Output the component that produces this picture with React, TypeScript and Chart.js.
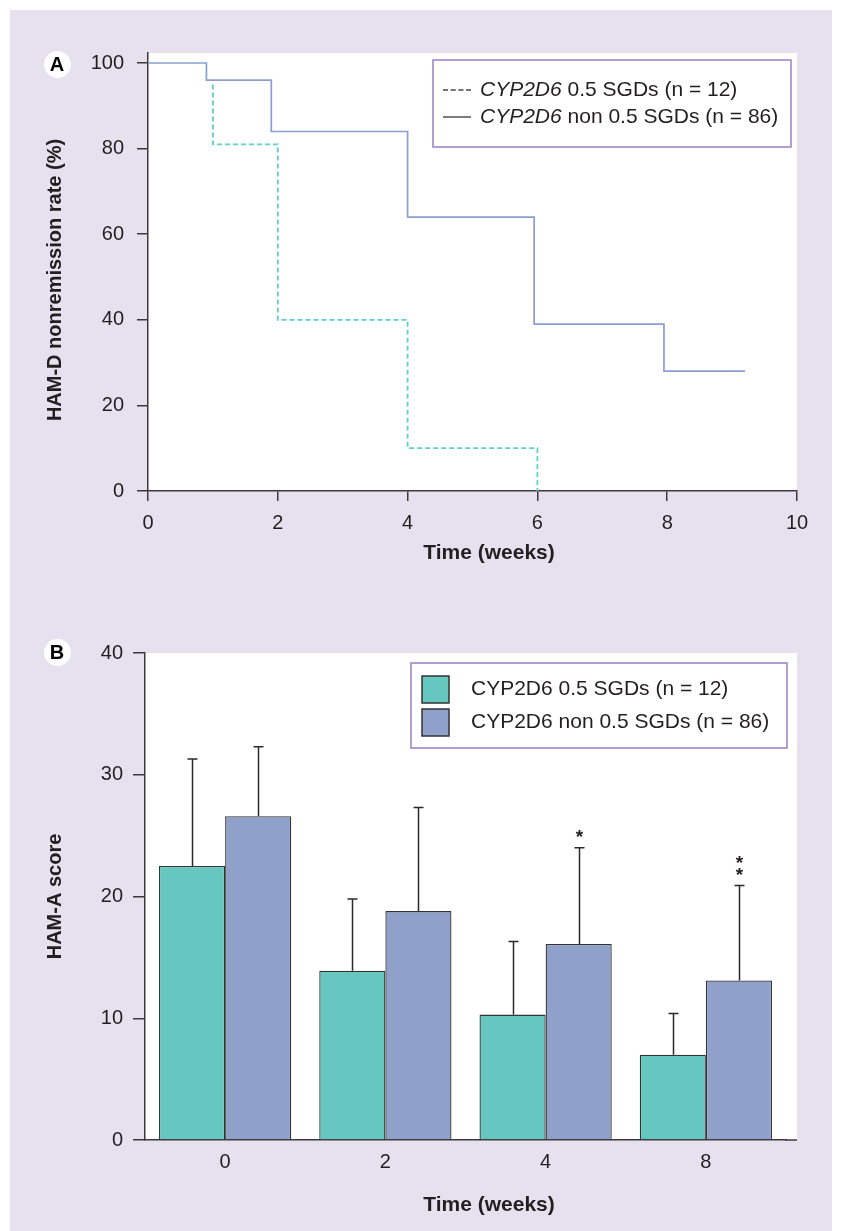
import React, { useEffect, useRef } from "react";
import { Chart, registerables } from "chart.js";

Chart.register(...registerables);

const FONT = "'Liberation Sans', Arial, Helvetica, sans-serif";
const INK = "#231f20";
const AXIS = "#3a3a3a";
const TEAL = "#66c7c1";
const BLUE = "#8fa1cb";
const LINE_TEAL = "#5fcfc9";
const LINE_BLUE = "#8c9ed0";
const FRAME = "#a088c8";

// ---------- Panel A: Kaplan-Meier style nonremission curves ----------
const kmTicksX = [0, 2, 4, 6, 8, 10];
const kmTicksY = [0, 20, 40, 60, 80, 100];
const kmGene = "CYP2D6";
const kmGroups = [" 0.5 SGDs (n = 12)", " non 0.5 SGDs (n = 86)"];
const sgdWeeks = [1, 1, 2, 4, 6];
const sgdRate = [95, 81, 40, 10, 0];
const nonWeeks = [0, 0.9, 1.9, 4, 5.95, 7.95, 9.2];
const nonRate = [100, 96, 84, 64, 39, 28, 28];

// ---------- Panel B: HAM-A scores ----------
const weekLabels = ["0", "2", "4", "8"];
const hamaTicksY = [0, 10, 20, 30, 40];
const barLabels = ["CYP2D6 0.5 SGDs (n = 12)", "CYP2D6 non 0.5 SGDs (n = 86)"];
const sgdMean = [22.5, 13.9, 10.3, 7.0];
const sgdSD = [8.8, 5.9, 6.0, 3.4];
const nonMean = [26.6, 18.8, 16.1, 13.1];
const nonSD = [5.7, 8.5, 7.9, 7.8];
const nonSig = ["", "", "*", "**"];

Chart.defaults.font.family = FONT;

function KMChart() {
  const ref = useRef<HTMLCanvasElement>(null);
  useEffect(() => {
    const decor = {
      id: "decorA",
      beforeDraw(chart: any) {
        const { ctx, chartArea: a } = chart;
        ctx.save();
        ctx.fillStyle = "#ffffff";
        ctx.fillRect(a.left, a.top, a.right - a.left, a.bottom - a.top);
        ctx.restore();
      },
      afterDraw(chart: any) {
        const { ctx, chartArea: a } = chart;
        ctx.save();
        ctx.fillStyle = INK;
        ctx.textAlign = "center";
        ctx.textBaseline = "middle";
        ctx.font = `bold 21px ${FONT}`;
        ctx.fillText("Time (weeks)", (a.left + a.right) / 2 + 16.5, a.bottom + 62);
        ctx.save();
        ctx.translate(55, (a.top + a.bottom) / 2 + 8);
        ctx.rotate(-Math.PI / 2);
        ctx.font = `bold 20px ${FONT}`;
        ctx.fillText("HAM-D nonremission rate (%)", 0, 0);
        ctx.restore();

        // legend
        const bx = a.right - 364, by = a.top + 7, bw = 358, bh = 87;
        ctx.fillStyle = "#ffffff";
        ctx.fillRect(bx, by, bw, bh);
        ctx.strokeStyle = FRAME;
        ctx.lineWidth = 1.6;
        ctx.strokeRect(bx, by, bw, bh);
        const rows = [by + 30, by + 57];
        chart.data.datasets.forEach((ds: any, i: number) => {
          const y = rows[i];
          ctx.strokeStyle = "#444";
          ctx.lineWidth = 1.4;
          ctx.setLineDash(i === 0 ? [5, 2.7] : []);
          ctx.beginPath();
          ctx.moveTo(bx + 10, y);
          ctx.lineTo(bx + 38, y);
          ctx.stroke();
          ctx.setLineDash([]);
          let x = bx + 47;
          ctx.fillStyle = INK;
          ctx.textAlign = "left";
          ctx.textBaseline = "middle";
          ctx.font = `italic 21px ${FONT}`;
          ctx.fillText(kmGene, x, y);
          x += ctx.measureText(kmGene).width;
          ctx.font = `21px ${FONT}`;
          ctx.fillText(kmGroups[i], x, y);
        });
        ctx.restore();
      },
    };

    const chart = new Chart(ref.current!, {
      type: "scatter",
      data: {
        datasets: [
          {
            label: kmGene + kmGroups[0],
            data: sgdWeeks.map((w, i) => ({ x: w, y: sgdRate[i] })),
            showLine: true,
            stepped: true,
            borderColor: LINE_TEAL,
            borderWidth: 1.8,
            borderDash: [5, 3],
            pointRadius: 0,
            fill: false,
          },
          {
            label: kmGene + kmGroups[1],
            data: nonWeeks.map((w, i) => ({ x: w, y: nonRate[i] })),
            showLine: true,
            stepped: true,
            borderColor: LINE_BLUE,
            borderWidth: 1.7,
            pointRadius: 0,
            fill: false,
          },
        ],
      },
      options: {
        animation: false,
        responsive: false,
        maintainAspectRatio: false,
        layout: { padding: { left: 0, top: 53, right: 45, bottom: 0 } },
        plugins: { legend: { display: false }, tooltip: { enabled: false } },
        scales: {
          x: {
            type: "linear",
            min: 0,
            max: 10,
            afterBuildTicks: (s: any) => {
              s.ticks = kmTicksX.map((v) => ({ value: v }));
            },
            afterFit: (s: any) => {
              s.height = 109;
            },
            grid: { drawOnChartArea: false, drawTicks: true, tickLength: 10, color: AXIS, lineWidth: 1.5 },
            border: { display: true, color: AXIS, width: 1.5 },
            ticks: { color: INK, font: { size: 20 }, padding: 10 },
          },
          y: {
            type: "linear",
            min: 0,
            max: 102.34,
            afterBuildTicks: (s: any) => {
              s.ticks = kmTicksY.map((v) => ({ value: v }));
            },
            afterFit: (s: any) => {
              s.width = 148;
            },
            grid: { drawOnChartArea: false, drawTicks: true, tickLength: 11, color: AXIS, lineWidth: 1.5 },
            border: { display: true, color: AXIS, width: 1.5 },
            ticks: { color: INK, font: { size: 20 }, padding: 13 },
          },
        },
      },
      plugins: [decor],
    } as any);
    return () => chart.destroy();
  }, []);
  return (
    <canvas
      ref={ref}
      width={842}
      height={600}
      style={{ position: "absolute", left: 0, top: 0, width: 842, height: 600 }}
    />
  );
}

function HamaChart() {
  const ref = useRef<HTMLCanvasElement>(null);
  useEffect(() => {
    const means = [sgdMean, nonMean];
    const sds = [sgdSD, nonSD];
    const whiteRight = 797;
    const decor = {
      id: "decorB",
      beforeDraw(chart: any) {
        const { ctx, chartArea: a } = chart;
        ctx.save();
        ctx.fillStyle = "#ffffff";
        ctx.fillRect(a.left, a.top, whiteRight - a.left, a.bottom - a.top);
        ctx.restore();
      },
      afterDatasetsDraw(chart: any) {
        const { ctx } = chart;
        const yScale = chart.scales.y;
        ctx.save();
        ctx.strokeStyle = "#2a2a2a";
        ctx.lineWidth = 1.5;
        chart.data.datasets.forEach((ds: any, i: number) => {
          const meta = chart.getDatasetMeta(i);
          meta.data.forEach((bar: any, j: number) => {
            const x = Math.round(bar.x) + 0.5;
            const yTop = yScale.getPixelForValue(means[i][j] + sds[i][j]);
            ctx.beginPath();
            ctx.moveTo(x, bar.y);
            ctx.lineTo(x, yTop);
            ctx.moveTo(x - 5, yTop);
            ctx.lineTo(x + 5, yTop);
            ctx.stroke();
            if (i === 1 && nonSig[j]) {
              ctx.fillStyle = INK;
              ctx.font = `bold 19px ${FONT}`;
              ctx.textAlign = "center";
              ctx.textBaseline = "alphabetic";
              for (let k = 0; k < nonSig[j].length; k++) {
                const cy = yTop - 16 - 12 * k;
                ctx.fillText(nonSig[j][k], x, cy + 11);
              }
            }
          });
        });
        ctx.restore();
      },
      afterDraw(chart: any) {
        const { ctx, chartArea: a } = chart;
        ctx.save();
        // extend base line to edge of white panel
        ctx.strokeStyle = AXIS;
        ctx.lineWidth = 1.5;
        ctx.beginPath();
        ctx.moveTo(a.right - 1, a.bottom);
        ctx.lineTo(whiteRight, a.bottom);
        ctx.stroke();

        ctx.fillStyle = INK;
        ctx.textAlign = "center";
        ctx.textBaseline = "middle";
        ctx.font = `bold 21px ${FONT}`;
        ctx.fillText("Time (weeks)", 489, a.bottom + 65);
        ctx.save();
        ctx.translate(55, (a.top + a.bottom) / 2);
        ctx.rotate(-Math.PI / 2);
        ctx.font = `bold 20px ${FONT}`;
        ctx.fillText("HAM-A score", 0, 0);
        ctx.restore();

        // legend
        const bx = 411, by = a.top + 10, bw = 376, bh = 85;
        ctx.fillStyle = "#ffffff";
        ctx.fillRect(bx, by, bw, bh);
        ctx.strokeStyle = FRAME;
        ctx.lineWidth = 1.6;
        ctx.strokeRect(bx, by, bw, bh);
        const rows = [by + 26, by + 59];
        chart.data.datasets.forEach((ds: any, i: number) => {
          const y = rows[i];
          ctx.fillStyle = ds.backgroundColor;
          ctx.fillRect(bx + 11, y - 13, 27, 27);
          ctx.strokeStyle = "#333";
          ctx.lineWidth = 1.5;
          ctx.strokeRect(bx + 11, y - 13, 27, 27);
          ctx.fillStyle = INK;
          ctx.textAlign = "left";
          ctx.textBaseline = "middle";
          ctx.font = `21px ${FONT}`;
          ctx.fillText(ds.label, bx + 60, y);
        });
        ctx.restore();
      },
    };

    const chart = new Chart(ref.current!, {
      type: "bar",
      data: {
        labels: weekLabels,
        datasets: [
          {
            label: barLabels[0],
            data: sgdMean,
            backgroundColor: TEAL,
            borderColor: "#333",
            borderWidth: 1.3,
            categoryPercentage: 0.825,
            barPercentage: 1.0,
          },
          {
            label: barLabels[1],
            data: nonMean,
            backgroundColor: BLUE,
            borderColor: "#333",
            borderWidth: 1.3,
            categoryPercentage: 0.825,
            barPercentage: 1.0,
          },
        ],
      },
      options: {
        animation: false,
        responsive: false,
        maintainAspectRatio: false,
        layout: { padding: { left: 0, top: 53, right: 56, bottom: 0 } },
        plugins: { legend: { display: false }, tooltip: { enabled: false } },
        scales: {
          x: {
            type: "category",
            afterFit: (s: any) => {
              s.height = 91;
            },
            grid: { display: false, drawTicks: false },
            border: { display: true, color: AXIS, width: 1.5 },
            ticks: { color: INK, font: { size: 20 }, padding: 10 },
          },
          y: {
            type: "linear",
            min: 0,
            max: 40,
            afterBuildTicks: (s: any) => {
              s.ticks = hamaTicksY.map((v) => ({ value: v }));
            },
            afterFit: (s: any) => {
              s.width = 145;
            },
            grid: { drawOnChartArea: false, drawTicks: true, tickLength: 12, color: AXIS, lineWidth: 1.5 },
            border: { display: true, color: AXIS, width: 1.5 },
            ticks: { color: INK, font: { size: 20 }, padding: 10 },
          },
        },
      },
      plugins: [decor],
    } as any);
    return () => chart.destroy();
  }, []);
  return (
    <canvas
      ref={ref}
      width={842}
      height={631}
      style={{ position: "absolute", left: 0, top: 600, width: 842, height: 631 }}
    />
  );
}

function PanelTag({ letter, cx, cy }: { letter: string; cx: number; cy: number }) {
  return (
    <div
      style={{
        position: "absolute",
        left: cx - 13.5,
        top: cy - 13.5,
        width: 27,
        height: 27,
        borderRadius: "50%",
        background: "#ffffff",
        color: "#000",
        fontFamily: FONT,
        fontWeight: "bold",
        fontSize: 20,
        lineHeight: "27px",
        textAlign: "center",
      }}
    >
      {letter}
    </div>
  );
}

export default function App() {
  return (
    <div
      style={{
        position: "absolute",
        left: 0,
        top: 0,
        width: 842,
        height: 1231,
        background: "#ffffff",
        overflow: "hidden",
      }}
    >
      <div
        style={{
          position: "absolute",
          left: 10,
          top: 10,
          width: 822,
          height: 1221,
          background: "#e6e0ef",
        }}
      />
      <KMChart />
      <HamaChart />
      <PanelTag letter="A" cx={57} cy={64} />
      <PanelTag letter="B" cx={57} cy={652} />
    </div>
  );
}
